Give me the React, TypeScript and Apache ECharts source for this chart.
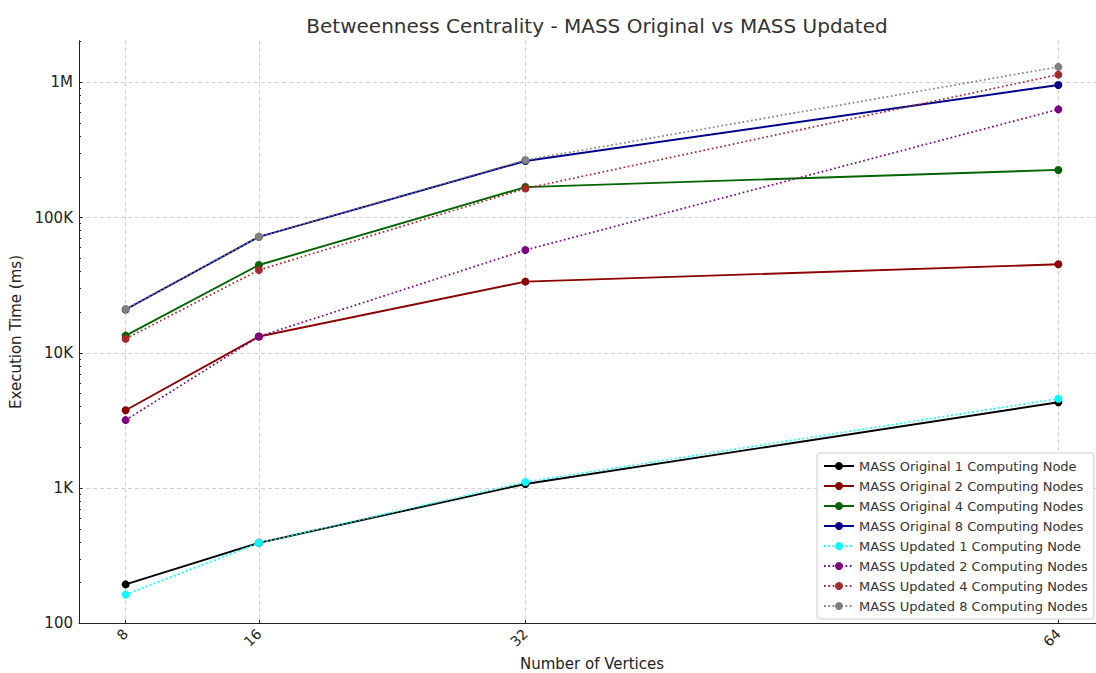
import React, { useEffect, useRef } from "react";
import * as echarts from "echarts";

// Number of vertices in the input graph
const vertices = [8, 16, 32, 64];

// Execution time (ms) per configuration
const original1 = [194, 393, 1072, 4310];
const original2 = [3760, 13200, 33600, 45100];
const original4 = [13400, 44600, 168000, 225000];
const original8 = [20900, 72000, 262000, 955000];
const updated1 = [163, 393, 1109, 4580];
const updated2 = [3180, 13200, 57500, 631000];
const updated4 = [12700, 40900, 164000, 1140000];
const updated8 = [21100, 72100, 266000, 1300000];

const seriesDefs = [
  { name: "MASS Original 1 Computing Node", data: original1, color: "#000000", dotted: false },
  { name: "MASS Original 2 Computing Nodes", data: original2, color: "#8b0000", dotted: false },
  { name: "MASS Original 4 Computing Nodes", data: original4, color: "#006400", dotted: false },
  { name: "MASS Original 8 Computing Nodes", data: original8, color: "#00008b", dotted: false },
  { name: "MASS Updated 1 Computing Node", data: updated1, color: "#00ffff", dotted: true },
  { name: "MASS Updated 2 Computing Nodes", data: updated2, color: "#800080", dotted: true },
  { name: "MASS Updated 4 Computing Nodes", data: updated4, color: "#a52a2a", dotted: true },
  { name: "MASS Updated 8 Computing Nodes", data: updated8, color: "#808080", dotted: true },
];

const yMajorTicks = [100, 1000, 10000, 100000, 1000000];
const yMinorTicks: number[] = [];
[100, 1000, 10000, 100000, 1000000].forEach((d) => {
  for (let k = 2; k <= 9; k++) yMinorTicks.push(d * k);
});

const yLabel = (v: number) => {
  if (v >= 1e6) return v / 1e6 + "M";
  if (v >= 1e3) return v / 1e3 + "K";
  return String(v);
};

const FONT = "DejaVu Sans";
const Y_MAX = Math.pow(10, 6.3076);

export default function App() {
  const ref = useRef<HTMLDivElement>(null);

  useEffect(() => {
    if (!ref.current) return;
    const chart = echarts.init(ref.current, undefined, { renderer: "svg" });
    const gridLine = { show: true, lineStyle: { color: "#d0d0d0", type: [4, 3], width: 1 } };
    chart.setOption({
      animation: false,
      backgroundColor: "#ffffff",
      textStyle: { fontFamily: FONT },
      title: {
        text: "Betweenness Centrality - MASS Original vs MASS Updated",
        left: 592,
        textAlign: "center",
        top: 11,
        textStyle: { fontFamily: FONT, fontSize: 20, fontWeight: "normal", color: "#333333" },
      },
      grid: {
        left: 79,
        top: 40.7,
        width: 1026,
        bottom: 49.7,
        containLabel: false,
        outerBoundsMode: "none",
      },
      xAxis: {
        type: "value",
        min: 5.2,
        max: 66.8,
        name: "Number of Vertices",
        nameLocation: "middle",
        nameGap: 33,
        nameTextStyle: { fontFamily: FONT, fontSize: 15, color: "#222222" },
        axisLine: { show: true, lineStyle: { color: "#222222", width: 1 } },
        axisTick: { show: true, inside: true, length: 3.5, customValues: vertices, lineStyle: { color: "#222222" } },
        axisLabel: {
          customValues: vertices,
          rotate: 45,
          margin: 8,
          fontFamily: FONT,
          fontSize: 14,
          color: "#222222",
        },
        splitLine: gridLine,
      },
      yAxis: [
        {
          type: "log",
          logBase: 10,
          min: 100,
          max: Y_MAX,
          name: "Execution Time (ms)",
          nameLocation: "middle",
          nameGap: 49,
          nameTextStyle: { fontFamily: FONT, fontSize: 15, color: "#222222" },
          axisLine: { show: true, lineStyle: { color: "#222222", width: 1 } },
          axisTick: { show: true, inside: true, length: 3.5, customValues: yMajorTicks, lineStyle: { color: "#222222" } },
          axisLabel: {
            customValues: yMajorTicks,
            formatter: (v: number) => yLabel(v),
            margin: 6,
            fontFamily: FONT,
            fontSize: 15,
            color: "#222222",
          },
          splitLine: gridLine,
        },
        {
          type: "log",
          logBase: 10,
          min: 100,
          max: Y_MAX,
          position: "left",
          axisLine: { show: false },
          axisTick: { show: true, inside: true, length: 2, customValues: yMinorTicks, lineStyle: { color: "#222222" } },
          axisLabel: { show: false },
          splitLine: { show: false },
        },
      ],
      legend: {
        orient: "vertical",
        left: 817,
        top: 453,
        padding: [6, 6, 6, 6],
        itemWidth: 30,
        itemHeight: 10,
        itemGap: 6,
        borderColor: "#cccccc",
        borderWidth: 1,
        borderRadius: 3,
        backgroundColor: "rgba(255,255,255,0.85)",
        textStyle: { fontFamily: FONT, fontSize: 13, lineHeight: 14, color: "#333333" },
        data: seriesDefs.map((s) => s.name),
      },
      series: seriesDefs.map((s) => ({
        name: s.name,
        type: "line",
        yAxisIndex: 0,
        data: vertices.map((x, i) => [x, s.data[i]]),
        symbol: "circle",
        symbolSize: 8,
        showSymbol: true,
        itemStyle: { color: s.color },
        lineStyle: s.dotted
          ? { color: s.color, width: 1.7, type: [1.7, 2.6] }
          : { color: s.color, width: 1.9, type: "solid" },
      })),
    });
    return () => chart.dispose();
  }, []);

  return (
    <div
      ref={ref}
      style={{ position: "fixed", left: 0, top: 0, width: 1096, height: 673 }}
    />
  );
}
